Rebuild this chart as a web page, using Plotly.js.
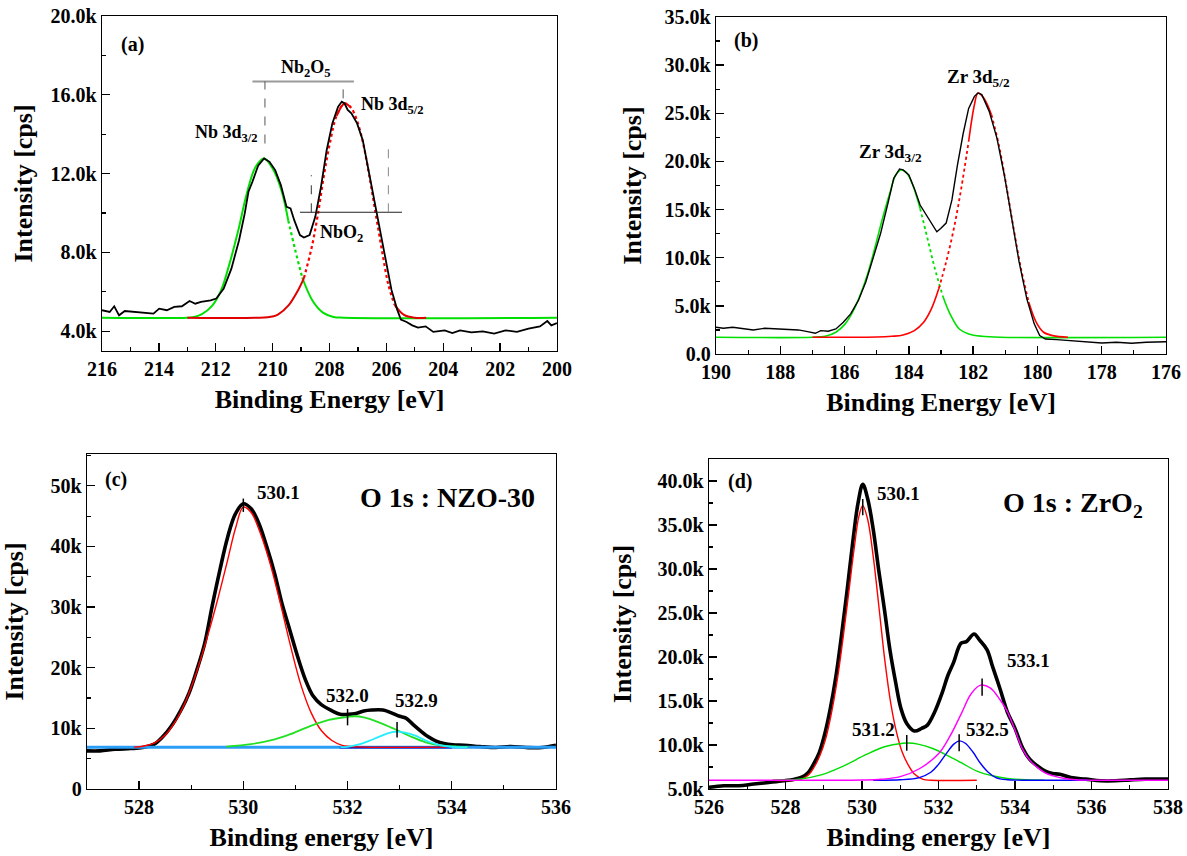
<!DOCTYPE html>
<html>
<head>
<meta charset="utf-8">
<script src="https://cdn.plot.ly/plotly-3.0.1.min.js"></script>
<style>
html,body{margin:0;padding:0;background:#fff;}
#chart{width:1187px;height:856px;}
</style>
</head>
<body>
<div id="chart"></div>
<script>
// ---------------- DATA (intensities in kcps) ----------------
// Panel (a): Nb 3d
const aBlackE = [216.0,215.73,215.57,215.4,215.2,214.86,214.53,214.19,213.99,213.72,213.46,213.19,212.92,212.72,212.52,212.18,211.98,211.72,211.45,211.18,210.98,210.85,210.71,210.51,210.30,210.11,209.91,209.71,209.51,209.37,209.24,209.04,208.90,208.70,208.50,208.30,208.10,207.90,207.70,207.57,207.47,207.36,207.23,207.03,206.83,206.63,206.43,206.23,206.03,205.82,205.62,205.49,205.29,205.09,204.89,204.62,204.35,203.95,203.68,203.41,203.01,202.61,202.21,201.81,201.41,201.0,200.6,200.34,200.2,200.0];
const aBlackI = [5.07,4.98,5.27,4.81,5.03,4.98,4.93,4.90,5.15,5.07,5.24,5.27,5.54,5.40,5.49,5.57,5.66,6.17,7.18,8.62,9.98,11.08,11.59,12.40,12.77,12.60,12.18,11.42,10.31,10.23,9.64,8.88,8.76,8.88,9.81,11.33,13.19,14.55,15.39,15.65,15.56,15.23,15.06,14.55,13.70,12.2,10.7,9.1,7.6,6.1,5.1,4.59,4.47,4.30,4.19,4.25,3.97,4.05,3.91,4.05,3.95,4.00,3.88,4.05,3.97,4.14,4.25,4.52,4.30,4.42];
const aGreenE = [216.0,213.0,212.8,212.5,212.13,211.82,211.52,211.21,210.91,210.60,210.30,210.0,209.69,209.45,209.20,208.96,208.59,208.23,207.86,207.5,200.0];
const aGreenI = [4.69,4.69,4.72,4.86,5.29,6.05,7.41,9.11,10.98,12.34,12.77,12.26,11.15,9.62,8.09,6.73,5.54,4.95,4.73,4.69,4.69];
const aRedE = [213.0,210.5,210.0,209.8,209.45,209.1,208.9,208.63,208.41,208.19,207.97,207.75,207.47,207.25,207.03,206.81,206.59,206.37,206.15,205.93,205.71,205.38,205.0,204.6];
const aRedI = [4.69,4.69,4.75,4.86,5.3,6.1,6.7,8.23,9.92,11.96,13.66,14.93,15.56,15.36,14.68,13.49,11.79,9.92,8.06,6.36,5.34,4.83,4.69,4.69];

// Panel (b): Zr 3d
const bBlackE = [190.0,189.77,189.48,189.18,188.84,188.49,188.14,187.79,187.44,187.15,186.91,186.74,186.51,186.27,186.04,185.81,185.57,185.34,185.11,184.88,184.64,184.47,184.29,184.18,184.0,183.83,183.65,183.48,183.30,183.13,183.01,182.84,182.66,182.49,182.31,182.14,181.96,181.85,181.73,181.50,181.26,181.03,180.80,180.57,180.33,180.10,179.93,179.75,179.40,178.94,178.47,178.0,177.54,177.07,176.61,176.0];
const bBlackI = [2.78,2.67,2.78,2.67,2.50,2.67,2.60,2.50,2.50,2.33,2.15,2.43,2.36,2.60,3.30,4.17,5.56,7.47,9.90,12.51,15.81,18.25,19.22,19.12,18.59,17.20,15.47,14.60,13.55,12.69,13.03,13.6,16.0,19.6,22.9,25.5,26.76,27.11,26.94,25.20,22.42,18.59,14.08,9.56,5.73,3.13,1.91,1.56,1.49,1.39,1.22,1.15,1.22,1.11,1.22,1.28];
const bGreenE = [190.0,187.0,186.6,186.27,185.98,185.75,185.52,185.28,185.05,184.82,184.58,184.41,184.23,184.06,183.88,183.65,183.42,183.19,182.95,182.72,182.43,182.14,181.73,181.15,176.0];
const bGreenI = [1.74,1.74,1.85,2.26,3.13,4.34,6.08,8.34,11.12,14.08,16.86,18.59,19.12,18.77,17.55,15.12,11.99,8.86,6.08,4.17,2.60,2.08,1.84,1.74,1.74];
const bRedE = [187.0,185.0,184.53,184.18,183.83,183.54,183.30,183.07,182.84,182.60,182.37,182.14,181.96,181.85,181.67,181.43,181.20,180.97,180.74,180.51,180.27,180.04,179.81,179.52,179.05];
const bRedI = [1.74,1.76,1.84,1.98,2.43,3.30,4.69,6.78,9.56,13.03,17.20,22.07,25.89,27.11,26.59,24.85,21.72,17.55,13.03,8.86,5.39,3.30,2.26,1.91,1.74];

// Panel (c): O 1s NZO-30
const cBlackE = [527.0,527.25,527.54,527.84,528.07,528.29,528.44,528.62,528.81,528.96,529.11,529.26,529.40,529.55,529.70,529.85,530.0,530.15,530.30,530.45,530.60,530.74,530.89,531.04,531.19,531.34,531.49,531.71,531.86,532.01,532.16,532.31,532.46,532.68,532.83,533.0,533.12,533.25,533.4,533.55,533.7,533.85,534.02,534.24,534.54,534.84,535.13,535.43,535.73,536.0];
const cBlackI = [6.29,6.29,6.56,6.67,6.84,7.39,8.48,10.39,13.13,15.86,19.69,24.07,30.09,36.1,41.58,45.4,47.05,46.22,43.76,39.93,35.56,30.63,26.26,21.88,18.05,15.32,13.95,12.86,12.31,12.31,12.47,12.86,13.02,13.02,12.6,12.0,11.7,10.7,9.6,8.6,7.9,7.5,7.3,7.22,7.0,6.84,7.0,6.84,6.84,7.22];
const cRedE = [527.9,528.1,528.3,528.5,528.7,528.9,529.1,529.3,529.5,529.7,529.85,530.0,530.15,530.3,530.5,530.7,530.9,531.1,531.3,531.5,531.7,531.9,532.2,533.9];
const cRedI = [6.9,7.1,7.6,8.9,11.2,14.6,19.2,24.8,31.0,37.8,43.0,46.5,45.6,42.8,37.6,31.0,23.8,17.3,12.6,9.6,8.0,7.2,6.95,6.9];
const cGreenE = [529.67,530.15,530.52,530.89,531.26,531.64,532.01,532.15,532.31,532.60,532.90,533.20,533.50,533.79,534.09,534.32];
const cGreenI = [7.0,7.4,8.0,9.0,10.3,11.4,11.9,12.0,11.8,11.0,9.9,8.7,7.7,7.2,7.0,6.95];
const cCyanE = [531.86,532.0,532.2,532.4,532.6,532.8,532.95,533.1,533.3,533.5,533.7,533.9,534.1,534.3];
const cCyanI = [6.9,6.95,7.3,7.9,8.6,9.25,9.45,9.3,8.8,8.0,7.4,7.05,6.9,6.9];
const cBaseE = [527.0,536.0];
const cBaseI = [6.9,6.9];
const cBase2E = [531.85,534.0];
const cBase2I = [6.85,6.85];
const cMarkE = [530.0,532.0,532.95];
const cMarkLo = [45.7,10.5,8.5];
const cMarkHi = [47.9,13.2,11.05];

// Panel (d): O 1s ZrO2
const dBlackE = [526.0,526.39,526.78,527.17,527.56,527.95,528.24,528.44,528.59,528.73,528.88,529.02,529.17,529.32,529.46,529.61,529.76,529.90,530.02,530.15,530.29,530.44,530.59,530.73,530.88,531.02,531.17,531.37,531.56,531.71,531.90,532.10,532.24,532.39,532.59,532.73,532.93,533.07,533.27,533.41,533.61,533.80,534.0,534.20,534.39,534.59,534.78,534.98,535.17,535.46,535.85,536.24,536.63,537.02,537.41,538.0];
const dBlackI = [5.19,5.37,5.37,5.56,5.74,5.93,6.12,6.38,6.86,7.79,9.10,11.14,14.12,17.84,22.31,27.52,33.11,37.58,39.62,37.95,34.60,29.76,25.29,20.82,17.10,14.12,12.45,11.59,11.89,12.26,13.75,15.98,17.84,19.33,21.57,21.75,22.61,21.94,20.82,18.96,16.36,13.75,11.89,9.65,8.35,7.61,7.05,6.75,6.68,6.30,6.12,5.93,5.93,6.04,6.12,6.12];
const dRedE = [527.66,528.4,528.6,528.75,528.9,529.05,529.2,529.35,529.5,529.65,529.8,529.92,530.02,530.15,530.3,530.45,530.6,530.75,530.9,531.05,531.2,531.37,531.6,531.8,533.0];
const dRedI = [6.0,6.1,6.6,7.5,8.8,10.7,13.6,17.3,22.0,27.2,32.5,36.0,37.2,35.6,31.2,25.4,19.5,14.8,11.5,9.2,7.8,6.7,6.1,6.0,6.0];
const dGreenE = [527.66,528.34,528.93,529.51,530.10,530.59,531.07,531.2,531.46,531.85,532.24,532.63,533.02,533.41,533.80,534.29,534.78];
const dGreenI = [6.0,6.1,6.6,7.6,8.9,9.8,10.2,10.22,10.1,9.6,8.8,7.9,7.0,6.5,6.2,6.05,6.0];
const dBlueE = [530.29,531.0,531.5,531.8,532.0,532.2,532.4,532.55,532.7,532.9,533.1,533.3,533.5,533.8,534.2,535.9];
const dBlueI = [6.0,6.05,6.3,6.9,7.8,9.0,10.1,10.47,10.2,9.2,7.9,6.9,6.3,6.05,6.0,6.0];
const dMagE = [526.0,530.0,530.5,531.0,531.5,532.0,532.3,532.6,532.85,533.1,533.35,533.6,533.8,534.0,534.2,534.4,534.6,534.8,535.0,535.3,535.6,536.0,538.0];
const dMagI = [6.0,6.02,6.1,6.4,7.3,9.0,11.0,13.6,15.8,16.8,16.5,15.2,13.8,11.7,9.5,8.2,7.4,6.8,6.5,6.2,6.05,6.0,6.0];
const dMarkE = [530.02,531.17,532.54,533.14];
const dMarkLo = [36.1,9.36,9.28,15.61];
const dMarkHi = [37.95,11.14,11.22,17.55];

// Tick labels
const aYTickVals = [4000,8000,12000,16000,20000];
const aYTickText = ['4.0k','8.0k','12.0k','16.0k','20.0k'];
const bYTickVals = [0,5000,10000,15000,20000,25000,30000,35000];
const bYTickText = ['0.0','5.0k','10.0k','15.0k','20.0k','25.0k','30.0k','35.0k'];
const cYTickVals = [0,10000,20000,30000,40000,50000];
const cYTickText = ['0','10k','20k','30k','40k','50k'];
const dYTickVals = [5000,10000,15000,20000,25000,30000,35000,40000];
const dYTickText = ['5.0k','10.0k','15.0k','20.0k','25.0k','30.0k','35.0k','40.0k'];

// ---------------- BUILD ----------------
const K = 1000;
const FONT = '"Liberation Serif", "Times New Roman", Times, serif';
const kc = a => a.map(v => v * K);
function part(xs, ys, lo, hi) {
  const x = [], y = [];
  xs.forEach((e, i) => { if (e >= lo - 1e-9 && e <= hi + 1e-9) { x.push(e); y.push(ys[i] * K); } });
  return {x, y};
}
function line(xa, ya, d, color, width, dash, shape) {
  return {type:'scatter', mode:'lines', x:d.x, y:d.y, xaxis:xa, yaxis:ya,
    line:{color:color, width:width, dash:dash || 'solid', shape:shape || 'linear', smoothing:1},
    hoverinfo:'skip', showlegend:false};
}
const full = (E, I) => ({x:E, y:kc(I)});

const RED = '#ff0000', GREEN = '#00e000';
const traces = [];
// (a)
[[209.45,216],[200,208.96]].forEach(r => traces.push(line('x','y',part(aGreenE,aGreenI,r[0],r[1]),GREEN,2,'solid','spline')));
traces.push(line('x','y',part(aGreenE,aGreenI,208.96,209.45),GREEN,2.2,'dot','spline'));
[[208.9,213],[207.25,207.75],[204.6,205.71]].forEach(r => traces.push(line('x','y',part(aRedE,aRedI,r[0],r[1]),'#e00000',2,'solid','spline')));
traces.push(line('x','y',part(aRedE,aRedI,205.71,208.9),RED,2.2,'dot','spline'));
traces.push(line('x','y',full(aBlackE,aBlackI),'#000',1.8));
// (b)
[[183.65,190],[176,182.95]].forEach(r => traces.push(line('x2','y2',part(bGreenE,bGreenI,r[0],r[1]),GREEN,1.6,'solid','spline')));
traces.push(line('x2','y2',part(bGreenE,bGreenI,182.95,183.65),GREEN,1.8,'dot','spline'));
[[183.07,187],[181.43,182.14],[179.05,180.27]].forEach(r => traces.push(line('x2','y2',part(bRedE,bRedI,r[0],r[1]),RED,1.6,'solid','spline')));
[[182.14,183.07],[180.27,181.43]].forEach(r => traces.push(line('x2','y2',part(bRedE,bRedI,r[0],r[1]),RED,1.8,'dot','spline')));
traces.push(line('x2','y2',full(bBlackE,bBlackI),'#000',1.4));
// (c)
traces.push(line('x3','y3',full(cBlackE,cBlackI),'#000',3.6,'solid','spline'));
traces.push(line('x3','y3',full(cBaseE,cBaseI),'#2a9df4',3));
traces.push(line('x3','y3',full(cBase2E,cBase2I),'#1010c0',2));
traces.push(line('x3','y3',full(cRedE,cRedI),RED,1.4,'solid','spline'));
traces.push(line('x3','y3',full(cGreenE,cGreenI),'#22e022',1.8,'solid','spline'));
traces.push(line('x3','y3',full(cCyanE,cCyanI),'#22eeff',1.8,'solid','spline'));
// (d)
traces.push(line('x4','y4',full(dBlackE,dBlackI),'#000',3.6,'solid','spline'));
traces.push(line('x4','y4',full(dRedE,dRedI),RED,1.4,'solid','spline'));
traces.push(line('x4','y4',full(dGreenE,dGreenI),'#00dd00',1.4,'solid','spline'));
traces.push(line('x4','y4',full(dBlueE,dBlueI),'#0000ff',1.4,'solid','spline'));
traces.push(line('x4','y4',full(dMagE,dMagI),'#ff00ff',1.4,'solid','spline'));

// axes
const tickFont = {family:FONT, size:20, color:'#000', weight:'bold'};
const titleFont = {family:FONT, size:26, color:'#000', weight:'bold'};
function xAxis(domain, range, anchor, title) {
  return {domain, range, anchor, showgrid:false, zeroline:false, showline:true, linecolor:'#000', linewidth:1.3, mirror:true,
    ticks:'inside', ticklen:8, tickwidth:1.3, tickcolor:'#000', tickmode:'linear', tick0:0, dtick:2, tickfont:tickFont,
    minor:{ticks:'inside', ticklen:4, tickwidth:1.2, tickcolor:'#000', tickmode:'linear', tick0:0, dtick:1},
    title:{text:title, font:titleFont, standoff:10}};
}
function yAxis(domain, range, anchor, vals, text, minorStep, standoff) {
  return {domain, range, anchor, showgrid:false, zeroline:false, showline:true, linecolor:'#000', linewidth:1.3, mirror:true,
    ticks:'inside', ticklen:8, tickwidth:1.3, tickcolor:'#000', tickmode:'array', tickvals:vals, ticktext:text, tickfont:tickFont,
    minor:{ticks:'inside', ticklen:4, tickwidth:1.2, tickcolor:'#000', tickmode:'linear', tick0:0, dtick:minorStep},
    title:{text:'Intensity [cps]', font:titleFont, standoff:standoff}};
}
const W = 1187, H = 856;
const dx = (l, r) => [l / W, r / W];
const dy = (t, b) => [1 - b / H, 1 - t / H];

const ann = (xr, yr, x, y, text, size, xanchor) => ({xref:xr, yref:yr, x, y, text, showarrow:false,
  xanchor:xanchor || 'center', yanchor:'middle', font:{family:FONT, size:size, color:'#000', weight:'bold'}});

const annotations = [
  ann('x','y',215.4,18530,'(a)',20,'left'),
  ann('x','y',208.84,17350,'Nb<sub>2</sub>O<sub>5</sub>',18),
  ann('x','y',206.96,15450,'Nb 3d<sub>5/2</sub>',18,'left'),
  ann('x','y',210.44,14050,'Nb 3d<sub>3/2</sub>',18,'right'),
  ann('x','y',207.57,8950,'NbO<sub>2</sub>',18),
  ann('x2','y2',189.5,32570,'(b)',20,'left'),
  ann('x2','y2',182.87,28700,'Zr 3d<sub>5/2</sub>',19,'left'),
  ann('x2','y2',185.62,20850,'Zr 3d<sub>3/2</sub>',19,'left'),
  ann('x3','y3',527.3,51000,'(c)',20,'left'),
  ann('x3','y3',530.22,48960,'530.1',19,'left'),
  ann('x3','y3',532.0,15480,'532.0',19),
  ann('x3','y3',533.33,14660,'532.9',19),
  ann('x3','y3',533.91,48000,'O 1s : NZO-30',28),
  ann('x4','y4',526.45,40000,'(d)',20,'left'),
  ann('x4','y4',530.35,38580,'530.1',19,'left'),
  ann('x4','y4',534.34,19630,'533.1',19),
  ann('x4','y4',530.29,11810,'531.2',19),
  ann('x4','y4',533.27,11810,'532.5',19),
  ann('x4','y4',535.51,37300,'O 1s : ZrO<sub>2</sub>',28)
];

const seg = (xr, yr, x0, y0, x1, y1, color, width, dash) => ({type:'line', xref:xr, yref:yr, x0, y0, x1, y1,
  line:{color, width, dash:dash || 'solid'}});
const shapes = [
  seg('x','y',210.71,16680,207.14,16680,'#9a9a9a',2),
  seg('x','y',210.27,13530,210.27,16680,'#555',1,'dash'),
  seg('x','y',207.52,15820,207.52,16680,'#555',1,'dash'),
  seg('x','y',209.04,10040,205.45,10040,'#222',1.2),
  seg('x','y',208.64,10040,208.64,11920,'#333',1,'dash'),
  seg('x','y',205.93,10040,205.93,13240,'#888',1,'dash')
];
cMarkE.forEach((e, i) => shapes.push(seg('x3','y3',e,cMarkLo[i]*K,e,cMarkHi[i]*K,'#000',1.5)));
dMarkE.forEach((e, i) => shapes.push(seg('x4','y4',e,dMarkLo[i]*K,e,dMarkHi[i]*K,'#000',1.5)));

const layout = {
  width:W, height:H, margin:{l:0, r:0, t:0, b:0}, paper_bgcolor:'#fff', plot_bgcolor:'#fff', showlegend:false,
  font:{family:FONT, color:'#000'},
  xaxis: xAxis(dx(102,557), [216,200], 'y', 'Binding Energy [eV]'),
  yaxis: yAxis(dy(16,351), [3000,20000], 'x', aYTickVals, aYTickText, 2000, 10),
  xaxis2: xAxis(dx(716,1166), [190,176], 'y2', 'Binding Energy [eV]'),
  yaxis2: yAxis(dy(17,354), [0,35000], 'x2', bYTickVals, bYTickText, 2500, 15),
  xaxis3: xAxis(dx(87,556), [527,536], 'y3', 'Binding energy [eV]'),
  yaxis3: yAxis(dy(454,789), [0,55250], 'x3', cYTickVals, cYTickText, 5000, 19),
  xaxis4: xAxis(dx(709,1168), [526,538], 'y4', 'Binding energy [eV]'),
  yaxis4: yAxis(dy(459,789), [5000,42500], 'x4', dYTickVals, dYTickText, 2500, 18),
  annotations, shapes
};
Plotly.newPlot('chart', traces, layout, {displayModeBar:false, staticPlot:true});
</script>
</body>
</html>
